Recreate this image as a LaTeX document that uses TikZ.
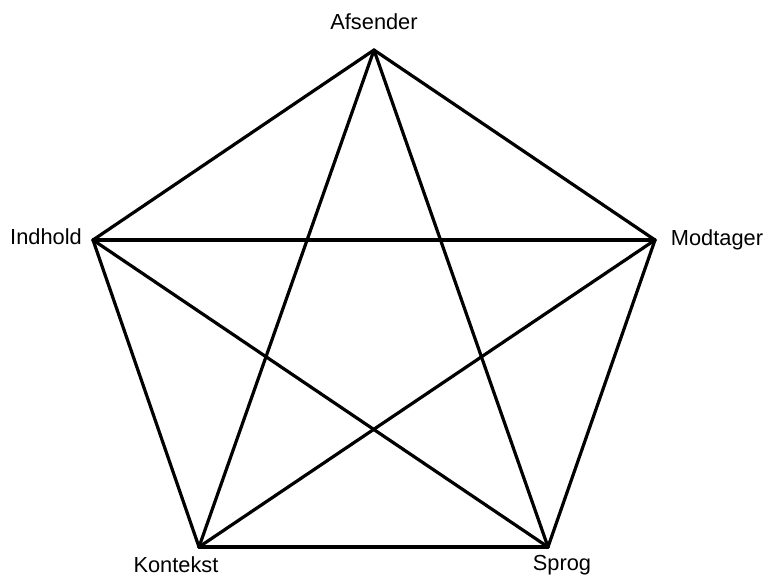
\documentclass[tikz,border=0pt]{standalone}
\usepackage{fontspec}
\setmainfont{Liberation Sans}
\begin{document}
\begin{tikzpicture}[x=1pt,y=-1pt,
  edge/.style={line width=3.2pt,line cap=round,black},
  lbl/.style={font=\fontsize{21.8}{26}\selectfont,inner sep=0pt}]
\useasboundingbox (0,0) rectangle (765,577);
\coordinate (A) at (374,50);
\coordinate (I) at (93,240);
\coordinate (M) at (655,240);
\coordinate (K) at (199,547);
\coordinate (S) at (548,547);
\node[lbl] (la) at (374,22) {Afsender};
\node[lbl] (li) at (46,237) {Indhold};
\node[lbl] (lm) at (717,240) {Modtager};
\node[lbl] (lk) at (176,565) {Kontekst};
\node[lbl] (ls) at (562,565) {Sprog};
\draw[edge] (A) -- (M);
\draw[edge] (M) -- (S);
\draw[edge] (S) -- (K);
\draw[edge] (K) -- (I);
\draw[edge] (I) -- (A);
\draw[edge] (A) -- (K);
\draw[edge] (A) -- (S);
\draw[edge] (I) -- (M);
\draw[edge] (I) -- (S);
\draw[edge] (M) -- (K);
\end{tikzpicture}
\end{document}
